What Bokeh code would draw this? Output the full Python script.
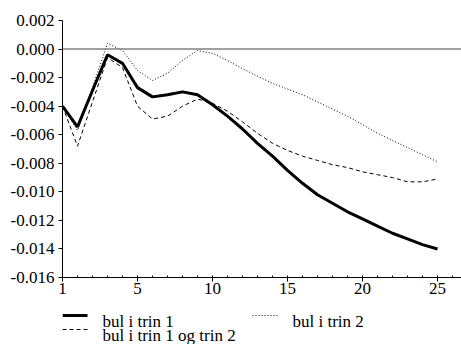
from bokeh.plotting import figure
from bokeh.layouts import column
from bokeh.models import Range1d, FixedTicker, NumeralTickFormatter, Span
from bokeh.core.properties import value
from bokeh.embed import file_html
from bokeh.resources import INLINE

periods = list(range(0, 26))
tick_positions = [0, 5, 10, 15, 20, 25]
tick_labels = ["1", "5", "10", "15", "20", "25"]
y_ticks = [0.002, 0.0, -0.002, -0.004, -0.006, -0.008, -0.010, -0.012, -0.014, -0.016]

bul_trin1 = [-0.0040, -0.00545, -0.0029, -0.0004, -0.0010, -0.0027, -0.00335, -0.0032,
             -0.0030, -0.0032, -0.0039, -0.0047, -0.0056, -0.0066, -0.0075, -0.0085,
             -0.0094, -0.0102, -0.0108, -0.0114, -0.0119, -0.0124, -0.0129, -0.0133,
             -0.0137, -0.0140]
bul_trin2 = [-0.0040, -0.0057, -0.0027, 0.0004, -0.0001, -0.0015, -0.0022, -0.0017,
             -0.0008, -0.0001, -0.0003, -0.0008, -0.00137, -0.0019, -0.0024, -0.0028,
             -0.0032, -0.0037, -0.0042, -0.0047, -0.0053, -0.0059, -0.0064, -0.0069,
             -0.0074, -0.0079]
bul_begge = [-0.0040, -0.0068, -0.0037, -0.0006, -0.0013, -0.0040, -0.0049, -0.0047,
             -0.0040, -0.0035, -0.0038, -0.00435, -0.0051, -0.0059, -0.0066, -0.0071,
             -0.0075, -0.0078, -0.0081, -0.0083, -0.0086, -0.0088, -0.0090, -0.0093,
             -0.0093, -0.0091]
legend_labels = ["bul i trin 1", "bul i trin 2", "bul i trin 1 og trin 2"]

FONT = "Liberation Serif"
FSIZE = "17px"

p = figure(width=461, height=304, output_backend="svg", toolbar_location=None,
           x_range=Range1d(0, 26.6), y_range=Range1d(-0.016, 0.002),
           min_border_left=62, min_border_right=0, min_border_top=20, min_border_bottom=27)
p.outline_line_color = None
p.xgrid.visible = False
p.ygrid.visible = False
p.background_fill_color = "white"
p.border_fill_color = "white"

zero = Span(location=0, dimension="width", line_color="#808080", line_width=1.5)
p.add_layout(zero)

p.line(periods, bul_trin2, line_color="black", line_width=1, line_dash="1 2")
p.line(periods, bul_begge, line_color="black", line_width=1, line_dash="4 3")
p.line(periods, bul_trin1, line_color="black", line_width=3)

xa = p.xaxis[0]
ya = p.yaxis[0]
xa.ticker = FixedTicker(ticks=tick_positions, minor_ticks=periods + [26])
xa.major_label_overrides = {t: l for t, l in zip(tick_positions, tick_labels)}
xa.major_tick_in = 0
xa.major_tick_out = 4
xa.minor_tick_in = 2
xa.minor_tick_out = 0
xa.major_label_standoff = 1

ya.ticker = FixedTicker(ticks=y_ticks, minor_ticks=[])
ya.formatter = NumeralTickFormatter(format="0.000")
ya.major_tick_in = 0
ya.major_tick_out = 4
ya.major_label_standoff = 4

for ax in (xa, ya):
    ax.axis_line_color = "black"
    ax.major_tick_line_color = "black"
    ax.minor_tick_line_color = "black"
    ax.major_label_text_font = FONT
    ax.major_label_text_font_size = FSIZE
    ax.major_label_text_color = "black"

# legend area (its frame is aligned with the main frame: x 62..461 in page pixels)
lg = figure(width=461, height=40, output_backend="svg", toolbar_location=None,
            x_range=Range1d(62, 461), y_range=Range1d(40, 0),
            x_axis_location=None, y_axis_location=None,
            min_border=0)
lg.grid.visible = False
lg.outline_line_color = None

lg.line([62, 87], [11, 11], line_color="black", line_width=3)
lg.line([252, 277], [11, 11], line_color="black", line_width=1, line_dash="1 2")
lg.line([62, 87], [25, 25], line_color="black", line_width=1, line_dash="4 3")
lg.text(x=[102, 292, 102], y=[17, 17, 31], text=legend_labels,
        text_font=value(FONT), text_font_size=FSIZE, text_baseline="alphabetic",
        text_align="left", text_color="black")

layout = column(p, lg, spacing=0)
open("out.html", "w").write(file_html(layout, INLINE))
